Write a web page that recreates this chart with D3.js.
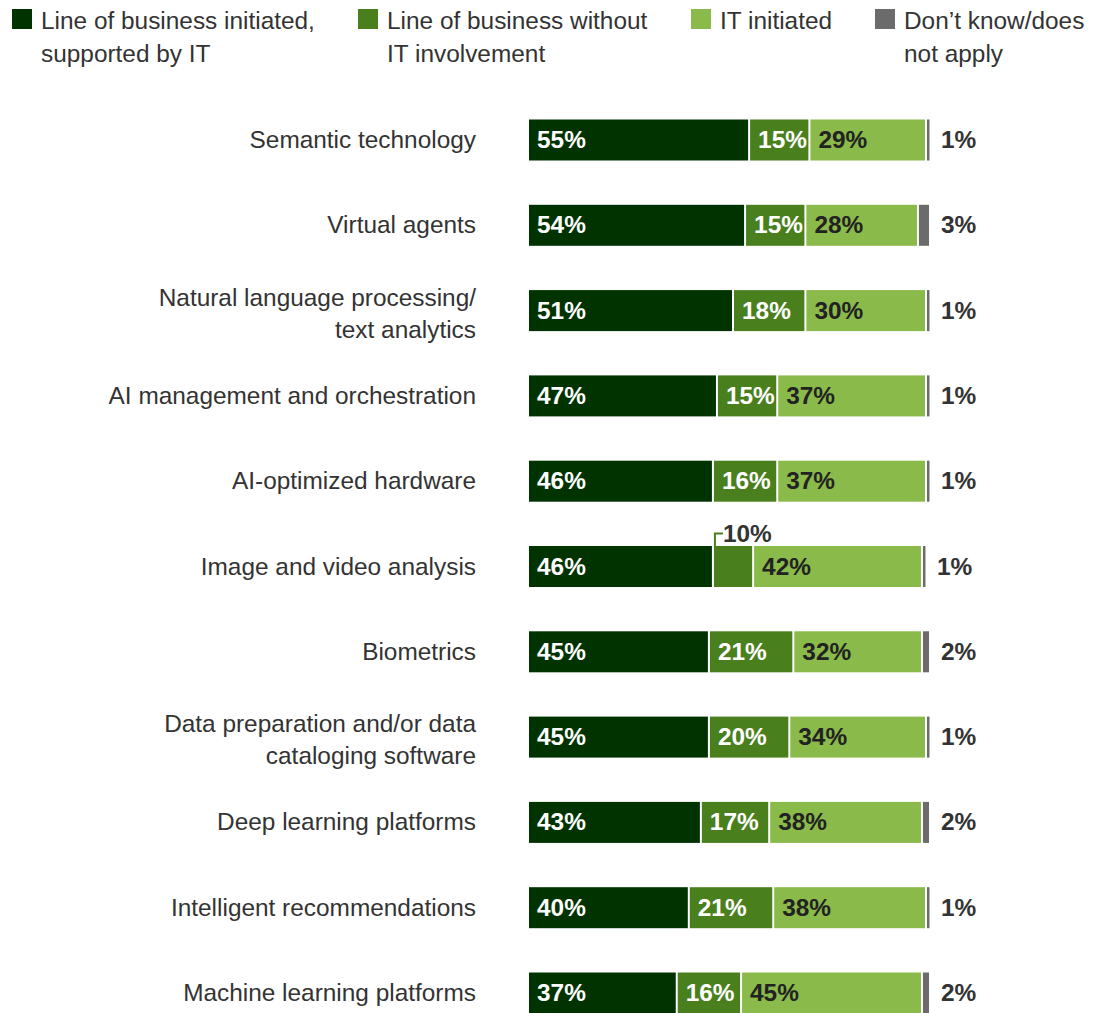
<!DOCTYPE html>
<html>
<head>
<meta charset="utf-8">
<script src="https://cdn.jsdelivr.net/npm/d3@7"></script>
<style>
  body { margin: 0; background: #fff; }
  text { font-family: "Liberation Sans", Arial, Helvetica, sans-serif; }
</style>
</head>
<body>
<script>
// data
var categories = [
  "Semantic technology",
  "Virtual agents",
  "Natural language processing/\ntext analytics",
  "AI management and orchestration",
  "AI-optimized hardware",
  "Image and video analysis",
  "Biometrics",
  "Data preparation and/or data\ncataloging software",
  "Deep learning platforms",
  "Intelligent recommendations",
  "Machine learning platforms"
];
var seriesNames = ["Line of business initiated,\nsupported by IT", "Line of business without\nIT involvement", "IT initiated", "Don\u2019t know/does\nnot apply"];
var lobSupported = [55, 54, 51, 47, 46, 46, 45, 45, 43, 40, 37];
var lobWithout   = [15, 15, 18, 15, 16, 10, 21, 20, 17, 21, 16];
var itInitiated  = [29, 28, 30, 37, 37, 42, 32, 34, 38, 38, 45];
var dontKnow     = [1, 3, 1, 1, 1, 1, 2, 1, 2, 1, 2];
var colors = ["#003300", "#4a7f1e", "#8aba4a", "#6b6b6b"];

var width = 1096, height = 1013;
var svg = d3.select("body").append("svg")
  .attr("width", width)
  .attr("height", height);

var rows = categories.map(function(c, i) {
  return { cat: c, s0: lobSupported[i], s1: lobWithout[i], s2: itInitiated[i], s3: dontKnow[i] };
});
var stack = d3.stack().keys(["s0", "s1", "s2", "s3"]);
var series = stack(rows);

var x0 = 529;
var xScale = d3.scaleLinear().domain([0, 100]).range([0, 402]);
var yScale = d3.scalePoint().domain(categories).range([140, 993]);
var barH = 41;
var gap = 2;
var fs = 24.4;

// legend
var legendX = [12, 358, 691, 875];
var legend = svg.selectAll(".legend")
  .data(seriesNames)
  .enter().append("g")
  .attr("class", "legend")
  .attr("transform", function(d, i) { return "translate(" + legendX[i] + ",0)"; });
legend.append("rect")
  .attr("x", 0).attr("y", 9)
  .attr("width", 20).attr("height", 20)
  .attr("fill", function(d, i) { return colors[i]; });
legend.append("text")
  .attr("x", 29)
  .attr("y", 29)
  .attr("font-size", fs)
  .attr("fill", "#333")
  .selectAll("tspan")
  .data(function(d) { return d.split("\n"); })
  .enter().append("tspan")
  .attr("x", 29)
  .attr("dy", function(d, i) { return i === 0 ? 0 : 33; })
  .text(function(d) { return d; });

// category labels
svg.selectAll(".cat")
  .data(categories)
  .enter().append("text")
  .attr("class", "cat")
  .attr("text-anchor", "end")
  .attr("font-size", fs)
  .attr("fill", "#333")
  .each(function(d) {
    var lines = d.split("\n");
    var cy = yScale(d);
    var t = d3.select(this);
    lines.forEach(function(l, i) {
      var off = lines.length === 1 ? 8 : (i === 0 ? -5 : 27);
      t.append("tspan")
        .attr("x", 476)
        .attr("y", cy + off)
        .text(l);
    });
  });

// bars
var groups = svg.selectAll(".series")
  .data(series)
  .enter().append("g")
  .attr("class", "series")
  .attr("fill", function(d, i) { return colors[i]; });

groups.selectAll("rect")
  .data(function(d) { return d; })
  .enter().append("rect")
  .attr("x", function(d) { return x0 + xScale(d[0]); })
  .attr("y", function(d) { return yScale(d.data.cat) - barH / 2; })
  .attr("width", function(d) { return Math.max(2.5, xScale(d[1] - d[0]) - gap); })
  .attr("height", barH);

// value labels
series.forEach(function(s, si) {
  s.forEach(function(d) {
    var v = d[1] - d[0];
    var cy = yScale(d.data.cat);
    var sx = x0 + xScale(d[0]);
    var w = xScale(v);
    var tx, ty, fill;
    if (si === 3) {
      tx = x0 + xScale(d[1]) + 10; ty = cy + 8; fill = "#333";
    } else if (w < 48) {
      // callout above the bar
      var lx = sx + 1;
      svg.append("path")
        .attr("d", "M" + lx + "," + (cy - barH / 2) + "V" + (cy - 33) + "H" + (lx + 8))
        .attr("fill", "none")
        .attr("stroke", colors[si])
        .attr("stroke-width", 2);
      tx = lx + 8; ty = cy - 25; fill = "#333";
    } else {
      tx = sx + 8; ty = cy + 8; fill = si === 2 ? "#222" : "#fff";
    }
    svg.append("text")
      .attr("x", tx)
      .attr("y", ty)
      .attr("font-size", fs)
      .attr("font-weight", "bold")
      .attr("fill", fill)
      .text(v + "%");
  });
});
</script>
</body>
</html>
